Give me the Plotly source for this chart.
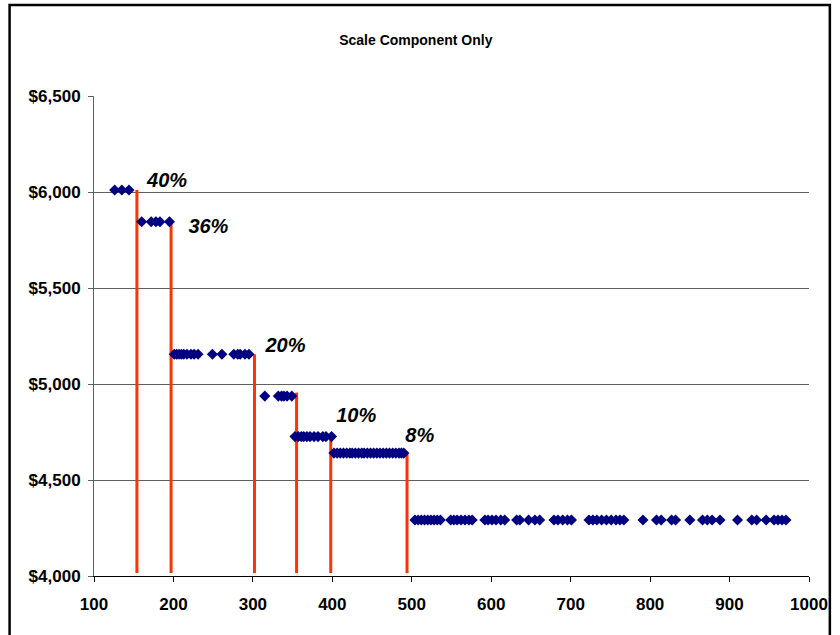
import plotly.graph_objects as go

# ---- data ----
step_levels = [6010, 5845, 5155, 4937, 4726, 4640, 4292]
step1_x = [126, 135, 144]
step2_x = [160, 172, 178, 183, 195]
step3_x = [201, 204, 207, 210, 213, 217, 222, 226, 231, 249, 261, 276, 281, 284, 290, 295]
step4_x = [315, 332, 336, 339, 343, 349]
step5_x = [353, 357, 361, 364, 368, 372, 377, 382, 388, 392, 399]
step6_x = [402, 406, 410, 414, 418, 422, 425, 429, 433, 437, 440, 444, 448, 452,
           456, 460, 464, 468, 472, 476, 480, 484, 487, 490]
step7_x = [504, 508, 512, 516, 520, 524, 528, 532, 536, 549, 553, 557, 562, 567,
           572, 576, 592, 596, 601, 606, 612, 617, 632, 636, 647, 655, 661, 679,
           684, 690, 696, 701, 723, 728, 733, 739, 745, 751, 757, 762, 767, 791,
           808, 814, 827, 832, 850, 866, 872, 878, 888, 910, 928, 934, 946, 956,
           961, 966, 971]

break_x = [154, 197, 302, 355, 398, 494]
break_top = [6010, 5845, 5155, 4955, 4740, 4640]
line_base = 4015

label_text = ["40%", "36%", "20%", "10%", "8%"]
label_x = [192, 244, 341, 430, 510]
label_y = [6052, 5812, 5194, 4830, 4726]

title_text = "Scale Component Only"
x_ticks = [100, 200, 300, 400, 500, 600, 700, 800, 900, 1000]
y_ticks = [4000, 4500, 5000, 5500, 6000, 6500]
y_ticktext = ["$4,000", "$4,500", "$5,000", "$5,500", "$6,000", "$6,500"]

FONT = "Liberation Sans, Arial, sans-serif"

steps = [step1_x, step2_x, step3_x, step4_x, step5_x, step6_x, step7_x]
px, py = [], []
for xs, lvl in zip(steps, step_levels):
    px += xs
    py += [lvl] * len(xs)

lx, ly = [], []
for bx, bt in zip(break_x, break_top):
    lx += [bx, bx, None]
    ly += [line_base, bt, None]

fig = go.Figure()
fig.add_trace(go.Scatter(x=lx, y=ly, mode="lines",
                         line=dict(color="#FF3300", width=3),
                         hoverinfo="skip", showlegend=False))
fig.add_trace(go.Scatter(x=px, y=py, mode="markers",
                         marker=dict(symbol="diamond", size=8.5, color="#000080",
                                     line=dict(width=0)),
                         showlegend=False, cliponaxis=False))
fig.add_trace(go.Scatter(x=label_x, y=label_y, mode="text",
                         text=label_text,
                         textfont=dict(family=FONT, size=20, color="black",
                                       weight="bold", style="italic"),
                         showlegend=False, hoverinfo="skip", cliponaxis=False))

fig.update_layout(
    width=840, height=635,
    margin=dict(l=94, r=26, t=96, b=59),
    paper_bgcolor="white", plot_bgcolor="white",
    font=dict(family=FONT, color="black"),
    title=dict(text=title_text,
               font=dict(family=FONT, size=14, color="black", weight="bold"),
               xref="container", x=0.495, xanchor="center",
               yref="container", y=1 - 40 / 635, yanchor="middle"),
    xaxis=dict(range=[100, 1000], tickmode="array", tickvals=x_ticks, showgrid=False,
               showline=True, linecolor="black", linewidth=1,
               ticks="outside", ticklen=5, tickcolor="black",
               tickfont=dict(family=FONT, size=17, color="black", weight="bold"),
               ticklabelstandoff=8, zeroline=False),
    yaxis=dict(range=[4000, 6500], tickmode="array", tickvals=y_ticks,
               ticktext=y_ticktext, showgrid=True,
               gridcolor="#606060", gridwidth=1,
               showline=True, linecolor="#606060", linewidth=1,
               ticks="outside", ticklen=5, tickcolor="#606060",
               tickfont=dict(family=FONT, size=17, color="black", weight="bold"),
               ticklabelstandoff=4, zeroline=False),
    shapes=[dict(type="rect", xref="paper", yref="paper",
                 x0=(9 - 94) / 720, x1=(835 - 94) / 720,
                 y0=(576 - 660) / 480, y1=(576 - 5) / 480,
                 line=dict(color="black", width=2.5), fillcolor="rgba(0,0,0,0)",
                 layer="above")],
)

fig.write_html("out.html")
